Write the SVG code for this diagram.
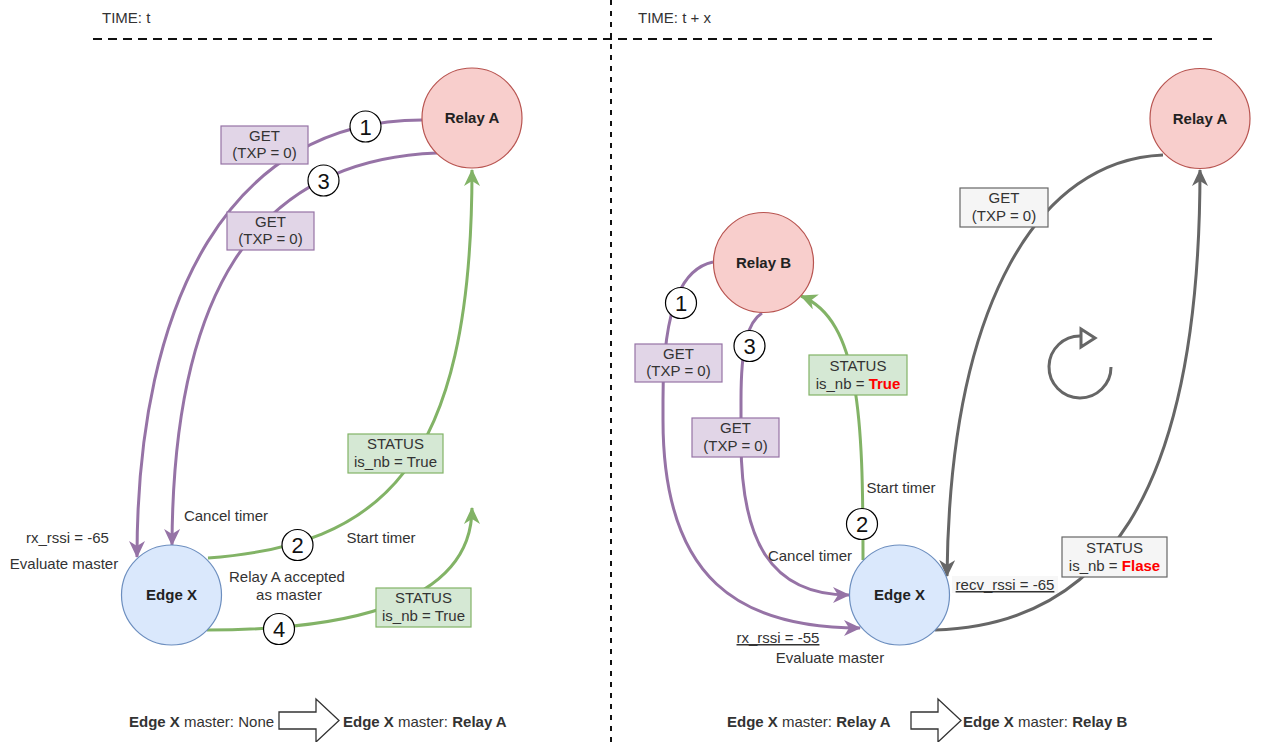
<svg xmlns="http://www.w3.org/2000/svg" width="1262" height="742" viewBox="0 0 1262 742">
<defs>
<style>
text{font-family:"Liberation Sans",Arial,sans-serif;font-size:15px;fill:#333333}
.b{font-weight:bold}
.node-r{fill:#f8cecc;stroke:#b85450;stroke-width:1.2}
.node-b{fill:#dae8fc;stroke:#6c8ebf;stroke-width:1.2}
.nt{font-weight:bold;fill:#222222;text-anchor:middle}
.pl{fill:#e1d5e7;stroke:#9673a6;stroke-width:1.2}
.gl{fill:#d5e8d4;stroke:#82b366;stroke-width:1.2}
.yl{fill:#f5f5f5;stroke:#666666;stroke-width:1.2}
.c{text-anchor:middle}
.num{fill:#ffffff;stroke:#000000;stroke-width:1.2}
.numt{font-size:22px;fill:#111111;text-anchor:middle}
.ep{fill:none;stroke:#9673a6;stroke-width:3}
.eg{fill:none;stroke:#82b366;stroke-width:3}
.ey{fill:none;stroke:#666666;stroke-width:3}
.red{fill:#ff0000;font-weight:bold}
.u{text-decoration:underline}
.blk{fill:#ffffff;stroke:#333333;stroke-width:1.3}
</style>
<marker id="ap" markerUnits="userSpaceOnUse" markerWidth="20" markerHeight="20" refX="16" refY="8" orient="auto"><path d="M0,0 L17,8 L0,16 L5,8 Z" fill="#9673a6"/></marker>
<marker id="ag" markerUnits="userSpaceOnUse" markerWidth="20" markerHeight="20" refX="16" refY="8" orient="auto"><path d="M0,0 L17,8 L0,16 L5,8 Z" fill="#82b366"/></marker>
<marker id="ay" markerUnits="userSpaceOnUse" markerWidth="20" markerHeight="20" refX="16" refY="8" orient="auto"><path d="M0,0 L17,8 L0,16 L5,8 Z" fill="#666666"/></marker>
</defs>
<rect width="1262" height="742" fill="#ffffff"/>

<g id="dividers">
<line x1="93" y1="39" x2="1215" y2="39" stroke="#111" stroke-width="2" stroke-dasharray="9 6"/>
<line x1="611" y1="0" x2="611" y2="742" stroke="#111" stroke-width="2" stroke-dasharray="5 6"/>
<text x="102" y="23">TIME: t</text>
<text x="638" y="23">TIME: t + x</text>
</g>

<g id="connectors">
<path class="ep" d="M422 120 C230 120,137 300,137 557" marker-end="url(#ap)"/>
<path class="ep" d="M437 153 C250 160,173 300,172 545" marker-end="url(#ap)"/>
<path class="eg" d="M208 558 C380 545,472 470,472 170" marker-end="url(#ag)"/>
<path class="eg" d="M207 630 C330 630,472 610,472 508" marker-end="url(#ag)"/>

<path class="ep" d="M713 262 C685 268,663 300,663 400 L663 420 C663 580,740 628,860 628" marker-end="url(#ap)"/>
<path class="ep" d="M762 313 C748 322,741 345,741 400 L741 440 C741 540,770 595,849 595" marker-end="url(#ap)"/>
<path class="eg" d="M863 560 C863 420,860 320,801 296" marker-end="url(#ag)"/>
<path class="ey" d="M1163 155 C1040 160,950 300,947 576" marker-end="url(#ay)"/>
<path class="ey" d="M935 630 C1100 625,1200 500,1200 170" marker-end="url(#ay)"/>
</g>

<g id="edge-labels">
<g id="lbl-get-1"><rect class="pl" x="221" y="126" width="87" height="38"/><text class="c" x="264.5" y="141">GET</text><text class="c" x="264.5" y="158">(TXP = 0)</text></g>
<g id="lbl-get-3"><rect class="pl" x="227" y="212" width="87" height="38"/><text class="c" x="270.5" y="227">GET</text><text class="c" x="270.5" y="244">(TXP = 0)</text></g>
<g id="lbl-status-2"><rect class="gl" x="348" y="434" width="95" height="39"/><text class="c" x="395.5" y="449">STATUS</text><text class="c" x="395.5" y="467">is_nb = True</text></g>
<g id="lbl-status-4"><rect class="gl" x="376" y="588" width="95" height="39"/><text class="c" x="423.5" y="603">STATUS</text><text class="c" x="423.5" y="621">is_nb = True</text></g>

<g id="lbl-get-r1"><rect class="pl" x="635" y="344" width="87" height="38"/><text class="c" x="678.5" y="359">GET</text><text class="c" x="678.5" y="376">(TXP = 0)</text></g>
<g id="lbl-get-r3"><rect class="pl" x="692" y="418" width="87" height="39"/><text class="c" x="735.5" y="433">GET</text><text class="c" x="735.5" y="451">(TXP = 0)</text></g>
<g id="lbl-status-r2"><rect class="gl" x="809" y="355" width="98" height="40"/><text class="c" x="858" y="371">STATUS</text><text class="c" x="858" y="389">is_nb = <tspan class="red">True</tspan></text></g>
<g id="lbl-get-gray"><rect class="yl" x="960" y="188" width="88" height="39"/><text class="c" x="1004" y="203">GET</text><text class="c" x="1004" y="221">(TXP = 0)</text></g>
<g id="lbl-status-gray"><rect class="yl" x="1062" y="537" width="105" height="40"/><text class="c" x="1114.5" y="553">STATUS</text><text class="c" x="1114.5" y="571">is_nb = <tspan class="red">Flase</tspan></text></g>

<g id="step-1"><circle class="num" cx="365.5" cy="126.5" r="15.5"/><text class="numt" x="365.5" y="134.5">1</text></g>
<g id="step-3"><circle class="num" cx="323.5" cy="180.5" r="15.5"/><text class="numt" x="323.5" y="188.5">3</text></g>
<g id="step-2"><circle class="num" cx="297.5" cy="545" r="15.5"/><text class="numt" x="297.5" y="553">2</text></g>
<g id="step-4"><circle class="num" cx="279" cy="629" r="15.5"/><text class="numt" x="279" y="637">4</text></g>
<g id="step-r1"><circle class="num" cx="681" cy="303" r="15.5"/><text class="numt" x="681" y="311">1</text></g>
<g id="step-r3"><circle class="num" cx="749.5" cy="346" r="15.5"/><text class="numt" x="749.5" y="354">3</text></g>
<g id="step-r2"><circle class="num" cx="862" cy="524" r="15.5"/><text class="numt" x="862" y="532">2</text></g>

<text class="c" x="67.5" y="543">rx_rssi = -65</text>
<text class="c" x="64" y="569">Evaluate master</text>
<text class="c" x="226" y="521">Cancel timer</text>
<text class="c" x="381" y="543">Start timer</text>
<text class="c" x="287" y="582">Relay A accepted</text>
<text class="c" x="289" y="600">as master</text>

<text class="c" x="901" y="493">Start timer</text>
<text class="c" x="810" y="561">Cancel timer</text>
<text class="c u" x="778" y="643">rx_rssi = -55</text>
<text class="c" x="830" y="663">Evaluate master</text>
<rect x="952" y="576" width="106" height="17" fill="#f7f7f7"/>
<text class="c u" x="1005" y="590">recv_rssi = -65</text>
</g>

<g id="rotation">
<path d="M1111 367 A31 31 0 1 1 1081 336" fill="none" stroke="#666666" stroke-width="3"/>
<polygon points="1081,329 1081,347 1095,338" fill="#ffffff" stroke="#666666" stroke-width="3" stroke-linejoin="miter"/>
</g>

<g id="relay-a-left"><circle class="node-r" cx="472" cy="118" r="50"/><text class="nt" x="472" y="123">Relay A</text></g>
<g id="edge-x-left"><circle class="node-b" cx="171.5" cy="595" r="50"/><text class="nt" x="171.5" y="600">Edge X</text></g>
<g id="relay-b"><circle class="node-r" cx="763.5" cy="262.5" r="50"/><text class="nt" x="763.5" y="267.5">Relay B</text></g>
<g id="relay-a-right"><circle class="node-r" cx="1200" cy="118.5" r="50"/><text class="nt" x="1200" y="123.5">Relay A</text></g>
<g id="edge-x-right"><circle class="node-b" cx="899.5" cy="595" r="50"/><text class="nt" x="899.5" y="600">Edge X</text></g>

<g id="transition-left">
<text x="129" y="727"><tspan class="b">Edge X</tspan> master: None</text>
<polygon class="blk" points="279,712 316,712 316,699 339,720.5 316,742 316,729 279,729"/>
<text x="343" y="727"><tspan class="b">Edge X</tspan> master: <tspan class="b">Relay A</tspan></text>
</g>
<g id="transition-right">
<text x="727" y="727"><tspan class="b">Edge X</tspan> master: <tspan class="b">Relay A</tspan></text>
<polygon class="blk" points="911,712 938,712 938,699 961,720.5 938,742 938,729 911,729"/>
<text x="963" y="727"><tspan class="b">Edge X</tspan> master: <tspan class="b">Relay B</tspan></text>
</g>
</svg>
